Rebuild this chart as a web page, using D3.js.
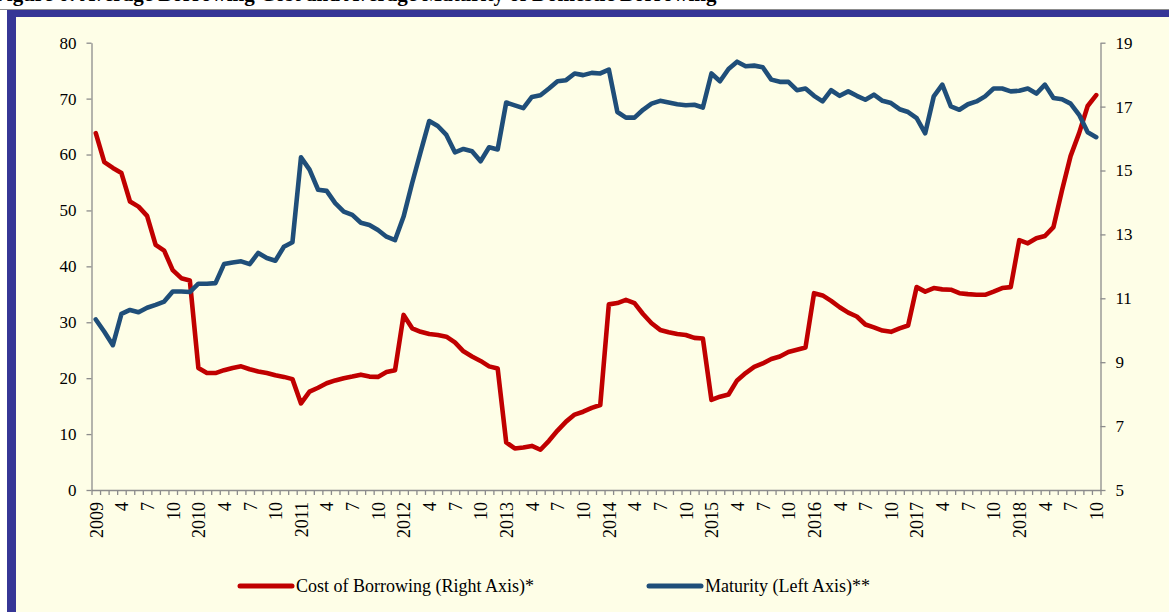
<!DOCTYPE html>
<html>
<head>
<meta charset="utf-8">
<script src="https://cdn.jsdelivr.net/npm/d3@7"></script>
<style>
  body { margin: 0; background: #fff; }
  svg { display: block; font-family: "Liberation Serif", "Times New Roman", serif; }
</style>
</head>
<body>
<div id="chart"></div>
<script>
// categories: Jan 2009 .. Oct 2018, monthly
const years = [2009, 2010, 2011, 2012, 2013, 2014, 2015, 2016, 2017, 2018];
const lastMonth = 10;
const labelMonths = [1, 4, 7, 10];

// Maturity (left axis)
const maturity = [
  30.5, 28.3, 25.9, 31.5, 32.2, 31.8, 32.6, 33.1, 33.7, 35.5, 35.5, 35.4,
  36.9, 36.9, 37.0, 40.4, 40.7, 40.9, 40.4, 42.4, 41.5, 41.0, 43.5, 44.3,
  59.5, 57.3, 53.7, 53.5, 51.3, 49.8, 49.2, 47.8, 47.4, 46.5, 45.3, 44.7,
  48.9, 54.9, 60.5, 66.0, 65.1, 63.5, 60.4, 61.0, 60.6, 58.8, 61.3, 60.9,
  69.3, 68.8, 68.3, 70.3, 70.6, 71.8, 73.1, 73.3, 74.5, 74.2, 74.6, 74.5,
  75.2, 67.6, 66.6, 66.6, 68.0, 69.1, 69.6, 69.3, 69.0, 68.8, 68.9, 68.4,
  74.5, 73.1, 75.3, 76.6, 75.8, 75.9, 75.6, 73.4, 73.0, 73.0, 71.5, 71.8,
  70.5, 69.5, 71.5, 70.5, 71.3, 70.5, 69.8, 70.7, 69.6, 69.2, 68.1, 67.6,
  66.5, 63.8, 70.4, 72.5, 68.6, 68.0, 69.0, 69.5, 70.4, 71.8, 71.8, 71.3,
  71.4, 71.8, 70.9, 72.5, 70.1, 69.9, 69.1, 67.1, 64.0, 63.1
];

// Cost of borrowing (right axis)
const cost = [
  16.17, 15.26, 15.08, 14.92, 14.03, 13.87, 13.58, 12.67, 12.49, 11.88, 11.63, 11.56,
  8.82, 8.66, 8.66, 8.75, 8.82, 8.87, 8.78, 8.71, 8.66, 8.59, 8.54, 8.47,
  7.71, 8.08, 8.20, 8.34, 8.43, 8.50, 8.55, 8.61, 8.55, 8.54, 8.69, 8.75,
  10.48, 10.06, 9.95, 9.88, 9.85, 9.80, 9.62, 9.34, 9.18, 9.04, 8.87, 8.80,
  6.49, 6.30, 6.33, 6.38, 6.26, 6.54, 6.86, 7.14, 7.36, 7.45, 7.57, 7.66,
  10.81, 10.85, 10.95, 10.85, 10.51, 10.22, 10.01, 9.94, 9.88, 9.85, 9.76, 9.74,
  7.82, 7.92, 7.99, 8.43, 8.66, 8.85, 8.96, 9.10, 9.18, 9.32, 9.39, 9.46,
  11.16, 11.09, 10.92, 10.72, 10.55, 10.43, 10.18, 10.09, 9.99, 9.95, 10.06, 10.15,
  11.35, 11.21, 11.32, 11.28, 11.27, 11.16, 11.13, 11.11, 11.11, 11.21, 11.32, 11.35,
  12.82, 12.72, 12.88, 12.95, 13.23, 14.38, 15.45, 16.17, 17.02, 17.36
];

const leftTicks = [0, 10, 20, 30, 40, 50, 60, 70, 80];
const rightTicks = [5, 7, 9, 11, 13, 15, 17, 19];
const costName = "Cost of Borrowing (Right Axis)*";
const maturityName = "Maturity (Left Axis)**";
const titleText = "Figure 6: Average Borrowing Cost and Average Maturity of Domestic Borrowing";

// build the category list (year, month)
const cats = [];
years.forEach(y => {
  for (let m = 1; m <= 12; m++) {
    if (y === years[years.length - 1] && m > lastMonth) break;
    cats.push({ year: y, month: m });
  }
});
const n = cats.length;

const W = 1169, H = 612;
const plot = { left: 91.5, right: 1100.5, top: 42.7, bottom: 490 };

const svg = d3.select("#chart").append("svg").attr("width", W).attr("height", H);

// frame
svg.append("line").attr("x1", 0).attr("x2", W).attr("y1", 9.5).attr("y2", 9.5)
  .attr("stroke", "#8c8c8c").attr("stroke-width", 1);
svg.append("rect").attr("x", 7).attr("y", 10).attr("width", W).attr("height", H).attr("fill", "#363696");
svg.append("rect").attr("x", 16).attr("y", 17).attr("width", W).attr("height", H).attr("fill", "#FEFEE7");

// title (mostly cut off at the top of the page)
svg.append("text").attr("x", -6).attr("y", 1)
  .style("font-size", "21px").style("font-weight", "bold").attr("fill", "#000")
  .text(titleText);

const x = d3.scaleLinear().domain([0, n]).range([plot.left, plot.right]);
const yL = d3.scaleLinear().domain([0, 80]).range([plot.bottom, plot.top]);
const yR = d3.scaleLinear().domain([5, 19]).range([plot.bottom, plot.top]);

// left axis
const gL = svg.append("g").attr("transform", `translate(${plot.left},0)`)
  .call(d3.axisLeft(yL).tickValues(leftTicks).tickSize(5).tickSizeOuter(0).tickPadding(10));
// right axis
const gR = svg.append("g").attr("transform", `translate(${plot.right},0)`)
  .call(d3.axisRight(yR).tickValues(rightTicks).tickSize(5).tickSizeOuter(0).tickPadding(10));
[gL, gR].forEach(g => {
  g.selectAll("text").style("font-size", "17px").attr("fill", "#000")
    .style("font-family", "Liberation Serif, serif");
});

// bottom axis: ticks between months
const gB = svg.append("g").attr("transform", `translate(0,${plot.bottom})`)
  .call(d3.axisBottom(x).tickValues(d3.range(0, n + 1)).tickSize(5).tickSizeOuter(0).tickFormat(""));

// bottom labels centered on months
const labelIdx = d3.range(n).filter(i => labelMonths.includes(cats[i].month));
const gLab = svg.append("g").attr("transform", `translate(0,${plot.bottom})`)
  .call(d3.axisBottom(x).tickValues(labelIdx.map(i => i + 0.5)).tickSize(0)
    .tickFormat(d => {
      const c = cats[Math.round(d - 0.5)];
      return c.month === 1 ? c.year : c.month;
    }));
gLab.select(".domain").remove();
gLab.selectAll("text")
  .attr("transform", "rotate(-90)")
  .attr("x", -12).attr("y", 0).attr("dy", "0.35em")
  .style("text-anchor", "end").style("font-size", "18px").attr("fill", "#000")
  .style("font-family", "Liberation Serif, serif");

[gL, gR, gB].forEach(g => {
  g.select(".domain").attr("stroke", "#8c8c8c").attr("stroke-width", 1.3);
  g.selectAll(".tick line").attr("stroke", "#8c8c8c").attr("stroke-width", 1.3);
});

// lines
const lineL = d3.line().x((d, i) => x(i + 0.5)).y(d => yL(d));
const lineR = d3.line().x((d, i) => x(i + 0.5)).y(d => yR(d));

svg.append("path").datum(cost).attr("d", lineR)
  .attr("fill", "none").attr("stroke", "#C00000").attr("stroke-width", 4.6)
  .attr("stroke-linejoin", "round").attr("stroke-linecap", "round");
svg.append("path").datum(maturity).attr("d", lineL)
  .attr("fill", "none").attr("stroke", "#1F4E79").attr("stroke-width", 4.6)
  .attr("stroke-linejoin", "round").attr("stroke-linecap", "round");

// legend
const legendItems = [
  { name: costName, color: "#C00000", x: 240 },
  { name: maturityName, color: "#1F4E79", x: 649 }
];
const lg = svg.selectAll(".legend").data(legendItems).enter().append("g")
  .attr("class", "legend").attr("transform", d => `translate(${d.x},586)`);
lg.append("line").attr("x1", 0).attr("x2", 52).attr("y1", 0).attr("y2", 0)
  .attr("stroke", d => d.color).attr("stroke-width", 5).attr("stroke-linecap", "round");
lg.append("text").attr("x", 56).attr("y", 6).style("font-size", "18px").attr("fill", "#000")
  .text(d => d.name);
</script>
</body>
</html>
